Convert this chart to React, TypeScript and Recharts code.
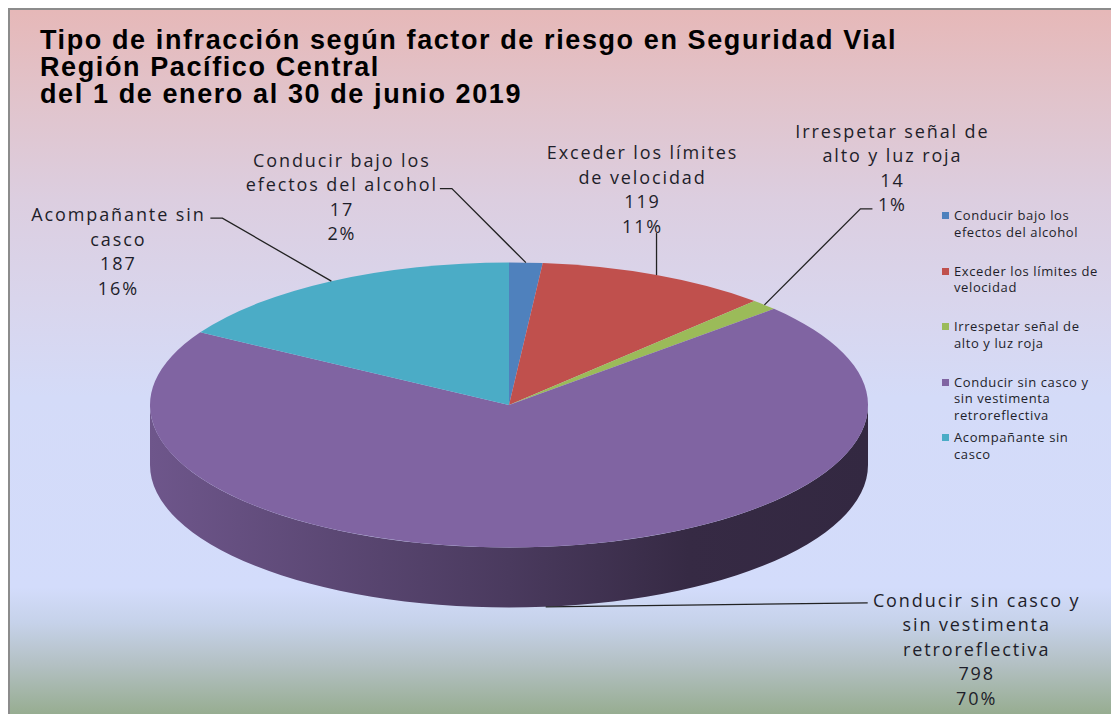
import React from 'react';
import { PieChart, Pie, Cell, Legend } from 'recharts';

document.body.style.margin = '0';

const categories = [
  'Conducir bajo los efectos del alcohol',
  'Exceder los límites de velocidad',
  'Irrespetar señal de alto y luz roja',
  'Conducir sin casco y sin vestimenta retroreflectiva',
  'Acompañante sin casco',
];
const values = [17, 119, 14, 798, 187];
const pctLabels = ['2%', '11%', '1%', '70%', '16%'];
const labelLines = [
  ['Conducir bajo los', 'efectos  del alcohol'],
  ['Exceder  los límites', 'de velocidad'],
  ['Irrespetar señal de', 'alto y luz roja'],
  ['Conducir sin casco y', 'sin vestimenta', 'retroreflectiva'],
  ['Acompañante sin', 'casco'],
];
const legendLines = [
  ['Conducir bajo los', 'efectos del alcohol'],
  ['Exceder los límites de', 'velocidad'],
  ['Irrespetar señal de', 'alto y luz roja'],
  ['Conducir sin casco y', 'sin vestimenta', 'retroreflectiva'],
  ['Acompañante sin', 'casco'],
];
const titleLines = [
  'Tipo de infracción según factor de riesgo en Seguridad Vial',
  'Región Pacífico Central',
  'del 1 de enero al 30 de junio 2019',
];
const colors = ['#4f81bd', '#c0504d', '#9bbb59', '#8064a2', '#4bacc6'];

const data = categories.map((name, i) => ({ name, value: values[i] }));

// 3D look: the pie is squashed vertically and gets a thick rim
const SQUASH = 0.397;
const DEPTH = 60;
const LABEL_FONT = '"Open Sans", sans-serif';

// label placement relative to the slice anchor: text centre, then leader bends
const labelLayout = [
  { tx: -184, ty: -103, leader: [[-74, -74], [-86, -74]] },
  { tx: -14, ty: -123, leader: [[0, -42]] },
  { tx: 128, ty: -174, leader: [[96, -96], [108, -96]] },
  { tx: 431, ty: -7, leader: [[322, -4]] },
  { tx: -213, ty: -67, leader: [[-109, -63], [-121, -63]] },
];

const RAD = Math.PI / 180;
const pt = (cx: number, cy: number, r: number, a: number) => [
  cx + r * Math.cos(a * RAD),
  cy - r * SQUASH * Math.sin(a * RAD),
];

const shade = (hex: string, k: number) => {
  const n = parseInt(hex.slice(1), 16);
  const c = [(n >> 16) & 255, (n >> 8) & 255, n & 255].map((v) => Math.round(v * k));
  return `rgb(${c.join(',')})`;
};

function Slice(props: any) {
  const { cx, cy, outerRadius: r, startAngle, endAngle, fill, index } = props;
  const hi = Math.max(startAngle, endAngle);
  const lo = Math.min(startAngle, endAngle);
  const ry = r * SQUASH;
  const [x1, y1] = pt(cx, cy, r, hi);
  const [x2, y2] = pt(cx, cy, r, lo);
  const large = hi - lo > 180 ? 1 : 0;
  const top = `M${cx},${cy} L${x1},${y1} A${r},${ry} 0 ${large} 1 ${x2},${y2} Z`;

  // front rim only (angles between -180 and 0 face the viewer)
  const sHi = Math.min(hi, 0);
  const sLo = Math.max(lo, -180);
  let side = null;
  if (sHi > sLo) {
    const [a1, b1] = pt(cx, cy, r, sHi);
    const [a2, b2] = pt(cx, cy, r, sLo);
    const d = `M${a1},${b1} A${r},${ry} 0 0 1 ${a2},${b2} L${a2},${b2 + DEPTH} A${r},${ry} 0 0 0 ${a1},${b1 + DEPTH} Z`;
    side = (
      <>
        <defs>
          <linearGradient id={`side-${index}`} gradientUnits="userSpaceOnUse" x1={cx - r} y1={0} x2={cx + r} y2={0}>
            <stop offset="0" stopColor={shade(fill, 0.86)} />
            <stop offset="0.5" stopColor={shade(fill, 0.58)} />
            <stop offset="0.75" stopColor={shade(fill, 0.42)} />
            <stop offset="1" stopColor={shade(fill, 0.4)} />
          </linearGradient>
        </defs>
        <path d={d} fill={`url(#side-${index})`} />
      </>
    );
  }
  return (
    <g>
      {side}
      <path d={top} fill={fill} />
    </g>
  );
}

function renderLabel(props: any) {
  const { cx, cy, midAngle, outerRadius, index, value } = props;
  const [ax, ay0] = pt(cx, cy, outerRadius, midAngle);
  const ay = ay0 + (Math.sin(midAngle * RAD) < 0 ? DEPTH : 0);
  const lay = labelLayout[index];
  const pts = [[ax, ay], ...lay.leader.map(([dx, dy]) => [ax + dx, ay + dy])];
  const lines = [...labelLines[index], String(value), pctLabels[index]];
  return (
    <g key={`lbl-${index}`}>
      <polyline points={pts.map((p) => p.join(',')).join(' ')} fill="none" stroke="#222" strokeWidth={1.3} />
      <text
        x={ax + lay.tx}
        y={ay + lay.ty}
        textAnchor="middle"
        fontFamily={LABEL_FONT}
        fontSize={18}
        letterSpacing={1.9}
        fill="#1e1e2a"
      >
        {lines.map((l, i) => (
          <tspan key={i} x={ax + lay.tx} y={ay + lay.ty + i * 24.5} dominantBaseline="central">
            {l}
          </tspan>
        ))}
      </text>
    </g>
  );
}

function renderLegend() {
  return (
    <div style={{ position: 'relative', fontFamily: LABEL_FONT, fontSize: 13, letterSpacing: 0.6, color: '#1e1e2a' }}>
      {legendLines.map((lines, i) => (
        <div key={i} style={{ position: 'absolute', top: i * 55.5, left: 0, display: 'flex', lineHeight: '16.5px' }}>
          <span
            style={{
              width: 7,
              height: 7,
              marginTop: 5,
              marginRight: 5,
              flex: 'none',
              background: colors[i],
            }}
          />
          <div style={{ whiteSpace: 'nowrap' }}>
            {lines.map((l, j) => (
              <div key={j}>{l}</div>
            ))}
          </div>
        </div>
      ))}
    </div>
  );
}

export default function App() {
  return (
    <div style={{ position: 'relative', width: 1111, height: 714, overflow: 'hidden', background: '#fff' }}>
      <div
        style={{
          position: 'absolute',
          left: 8,
          top: 8,
          width: 1103,
          height: 706,
          boxSizing: 'border-box',
          borderTop: '2px solid #8c8c8c',
          borderLeft: '2px solid #8c8c8c',
          background:
            'linear-gradient(to bottom, #e6b8b8 0%, #e1c4cc 13%, #dccee0 27%, #d9d5ec 41%, #d4dbf8 55%, #d3dcfb 82%, #c6d2ea 87%, #b3c0c3 93%, #97ad91 100%)',
        }}
      />
      <svg width={1111} height={120} style={{ position: 'absolute', left: 0, top: 0 }}>
        {titleLines.map((t, i) => (
          <text
            key={i}
            x={40}
            y={49 + i * 27}
            fontFamily='"Liberation Sans", Arial, sans-serif'
            fontWeight="bold"
            fontSize={27}
            letterSpacing={1.6}
            fill="#000"
          >
            {t}
          </text>
        ))}
      </svg>
      <div style={{ position: 'absolute', left: 0, top: 0 }}>
        <PieChart width={1111} height={714} margin={{ top: 0, right: 0, bottom: 0, left: 0 }}>
          <Pie
            data={data}
            dataKey="value"
            nameKey="name"
            cx={509}
            cy={405}
            outerRadius={359}
            startAngle={90}
            endAngle={-270}
            stroke="none"
            shape={Slice}
            inactiveShape={Slice}
            activeShape={Slice}
            label={renderLabel}
            labelLine={false}
            isAnimationActive={false}
          >
            {data.map((d, i) => (
              <Cell key={d.name} fill={colors[i]} />
            ))}
          </Pie>
          <Legend
            content={renderLegend}
            wrapperStyle={{ position: 'absolute', left: 942, top: 207, width: 169, height: 270 }}
          />
        </PieChart>
      </div>
    </div>
  );
}
